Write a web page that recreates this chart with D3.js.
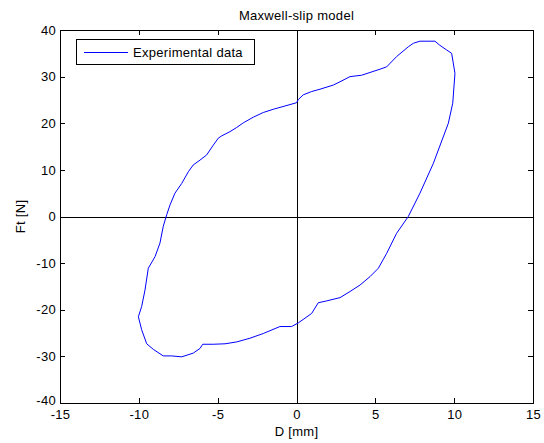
<!DOCTYPE html>
<html>
<head>
  <meta charset="utf-8">
  <script src="https://d3js.org/d3.v7.min.js"></script>
  <style>
    body { margin: 0; background: #fff; }
    svg { display: block; }
    text { font-family: "Liberation Sans", Arial, sans-serif; font-size: 13px; letter-spacing: 0.3px; fill: #000; }
  </style>
</head>
<body>
  <div id="chart"></div>
  <script>
    // hysteresis loop
    const dispMm = [0.00, 0.12, 0.43, 0.96, 1.49, 2.34, 2.76, 3.39, 4.13, 5.30, 5.72, 6.35, 7.09, 7.41, 7.83, 8.78, 9.06, 9.53, 9.84, 10.05,
      9.91, 9.63, 8.68, 7.83, 7.09, 6.35, 5.72, 5.19, 4.66, 4.03, 3.39, 2.76, 1.91, 1.38, 0.96, 0.12, -0.31, -1.05, -2.11, -2.95,
      -3.79, -4.53, -5.28, -5.95, -6.12, -6.55, -7.28, -7.92, -8.45, -9.08, -9.50, -9.82, -10.03, -9.82, -9.61, -9.40, -8.97, -8.66, -8.45, -8.23,
      -8.02, -7.71, -7.28, -6.86, -6.55, -6.12, -5.70, -5.28, -4.96, -4.74, -4.22, -3.79, -3.37, -2.74, -2.11, -1.47, -0.73, 0.00];
    const forceN = [24.4, 25.1, 26.1, 26.8, 27.3, 28.2, 28.9, 30.0, 30.3, 31.6, 32.1, 34.3, 36.4, 37.15, 37.6, 37.6, 36.8, 35.7, 35.0, 30.7,
      24.3, 20.0, 11.4, 5.0, 0.0, -3.6, -7.9, -11.1, -12.9, -14.7, -16.1, -17.4, -18.1, -18.5, -20.8, -22.8, -23.6, -23.6, -25.1, -26.1,
      -26.9, -27.3, -27.4, -27.4, -28.3, -29.3, -30.1, -29.9, -29.9, -28.5, -27.3, -24.3, -21.5, -19.3, -15.8, -11.1, -8.6, -5.7, -2.1, 0.4,
      2.5, 5.0, 7.1, 9.6, 11.05, 12.1, 13.2, 15.3, 16.8, 17.3, 18.2, 19.1, 20.1, 21.3, 22.3, 23.0, 23.7, 24.4];

    const xTicks = [-15, -10, -5, 0, 5, 10, 15];
    const yTicks = [-40, -30, -20, -10, 0, 10, 20, 30, 40];

    const width = 544, height = 443;
    const plotL = 60, plotR = 533, plotT = 30, plotB = 403;

    const x = d3.scaleLinear().domain([-15, 15]).range([plotL, plotR]);
    const y = d3.scaleLinear().domain([-40, 40]).range([plotB, plotT]);

    const svg = d3.select("#chart").append("svg")
      .attr("width", width)
      .attr("height", height);

    // zero lines
    svg.append("line")
      .attr("x1", plotL).attr("x2", plotR)
      .attr("y1", Math.round(y(0)) + 0.5).attr("y2", Math.round(y(0)) + 0.5)
      .attr("stroke", "#000");
    svg.append("line")
      .attr("x1", Math.round(x(0)) + 0.5).attr("x2", Math.round(x(0)) + 0.5)
      .attr("y1", plotT).attr("y2", plotB)
      .attr("stroke", "#000");

    // data curve
    const pts = dispMm.map((d, i) => [d, forceN[i]]);
    svg.append("path")
      .datum(pts)
      .attr("fill", "none")
      .attr("stroke", "#0000ff")
      .attr("stroke-width", 1)
      .attr("d", d3.line().x(d => x(d[0])).y(d => y(d[1])));

    // axes (ticks pointing inward, box on); plain hyphen for negatives like MATLAB
    const tickLen = 5;
    const fmt = d => String(d);
    const xAxis = svg.append("g").attr("transform", `translate(0,${plotB})`)
      .call(d3.axisBottom(x).tickValues(xTicks).tickSize(-tickLen).tickPadding(7).tickFormat(fmt));
    const xAxisTop = svg.append("g").attr("transform", `translate(0,${plotT})`)
      .call(d3.axisTop(x).tickValues(xTicks).tickSize(-tickLen).tickFormat(""));
    const yAxis = svg.append("g").attr("transform", `translate(${plotL},0)`)
      .call(d3.axisLeft(y).tickValues(yTicks).tickSize(-tickLen).tickPadding(4).tickFormat(fmt));
    const yAxisRight = svg.append("g").attr("transform", `translate(${plotR},0)`)
      .call(d3.axisRight(y).tickValues(yTicks).tickSize(-tickLen).tickFormat(""));

    [xAxis, xAxisTop, yAxis, yAxisRight].forEach(g => {
      g.select(".domain").remove();
      g.selectAll("line").attr("stroke", "#000").attr("shape-rendering", "crispEdges");
      g.selectAll("text").attr("font-family", null).attr("font-size", null);
    });
    // lowest y label sits a touch higher so it clears the -15 below it
    yAxis.selectAll(".tick text").filter(d => d === -40).attr("dy", "0.1em");

    // plot box
    svg.append("rect")
      .attr("x", plotL + 0.5).attr("y", plotT + 0.5)
      .attr("width", plotR - plotL).attr("height", plotB - plotT)
      .attr("fill", "none").attr("stroke", "#000");

    // titles
    svg.append("text").attr("x", (plotL + plotR) / 2).attr("y", 20)
      .attr("text-anchor", "middle").text("Maxwell-slip model");
    svg.append("text").attr("x", (plotL + plotR) / 2).attr("y", 436)
      .attr("text-anchor", "middle").text("D [mm]");
    svg.append("text")
      .attr("transform", `translate(25,${(plotT + plotB) / 2}) rotate(-90)`)
      .attr("text-anchor", "middle").text("Ft [N]");

    // legend
    const lg = svg.append("g");
    lg.append("rect").attr("x", 76.5).attr("y", 39.5).attr("width", 178).attr("height", 25)
      .attr("fill", "#fff").attr("stroke", "#000");
    lg.append("line").attr("x1", 84).attr("x2", 128).attr("y1", 52.5).attr("y2", 52.5)
      .attr("stroke", "#0000ff");
    lg.append("text").attr("x", 133).attr("y", 57).text("Experimental data");
  </script>
</body>
</html>
